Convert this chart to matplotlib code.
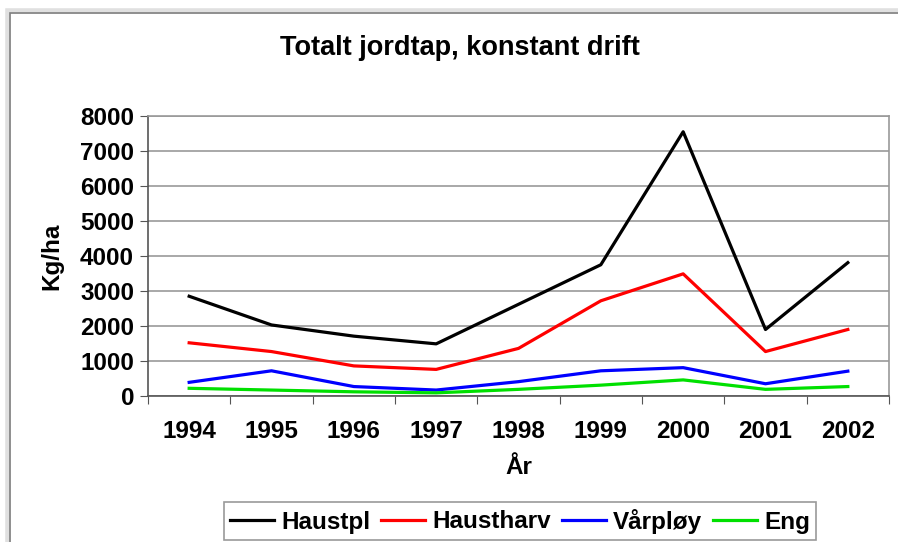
import matplotlib
matplotlib.use("Agg")
import matplotlib.pyplot as plt
from matplotlib.patches import Rectangle

plt.rcParams['font.family'] = ['Liberation Sans', 'DejaVu Sans']
plt.rcParams['font.weight'] = 'bold'

years = ["1994", "1995", "1996", "1997", "1998", "1999", "2000", "2001", "2002"]
haustpl = [2850, 2030, 1710, 1490, 2620, 3750, 7550, 1900, 3810]
haustharv = [1520, 1270, 860, 760, 1360, 2720, 3490, 1270, 1900]
varploy = [390, 720, 270, 170, 410, 720, 810, 350, 710]
eng = [220, 170, 120, 90, 190, 310, 460, 190, 270]

series = [
    ("Haustpl", haustpl, "black"),
    ("Haustharv", haustharv, "#ff0000"),
    ("Vårpløy", varploy, "#0000ff"),
    ("Eng", eng, "#00e000"),
]

fig = plt.figure(figsize=(8.98, 5.42), dpi=100)

# outer chart frame with light shadow
fig.patches.append(Rectangle((8 / 898, -0.05), 1.0, 1 - 11 / 542 + 0.05,
                             transform=fig.transFigure, fill=False,
                             edgecolor="#e0e0e0", linewidth=4))
fig.patches.append(Rectangle((10 / 898, -0.05), 1.0, 1 - 13 / 542 + 0.05,
                             transform=fig.transFigure, fill=False,
                             edgecolor="#808080", linewidth=1.2))

ax = fig.add_axes([148 / 898, 1 - 396 / 542, (889 - 148) / 898, (396 - 116) / 542])

x = list(range(len(years)))
for name, vals, col in series:
    ax.plot(x, vals, color=col, linewidth=2.3, label=name)

ax.set_xlim(-0.5, len(years) - 0.5)
ax.set_ylim(0, 8000)
ax.set_yticks(range(0, 8001, 1000))
ax.yaxis.grid(True, color="#999999", linewidth=1.2)
ax.set_axisbelow(True)

# tick marks on category boundaries, labels at category centres
ax.set_xticks([i + 0.5 for i in range(-1, len(years))])
ax.set_xticklabels([])
ax.set_xticks(x, minor=True)
ax.set_xticklabels(years, minor=True)
ax.tick_params(axis="x", which="major", length=6, color="#555555", direction="out")
ax.tick_params(axis="x", which="minor", length=0, pad=17, labelsize=17.5)
ax.tick_params(axis="y", length=6, color="#555555", labelsize=17.5, pad=4)

for side in ["top", "right"]:
    ax.spines[side].set_color("#999999")
    ax.spines[side].set_linewidth(1.2)
for side in ["left", "bottom"]:
    ax.spines[side].set_color("#555555")
    ax.spines[side].set_linewidth(1.2)

ax.set_xlabel("År", fontsize=17.5, fontweight="bold", labelpad=10)
ax.set_ylabel("Kg/ha", fontsize=17.5, fontweight="bold", labelpad=12)
fig.text(460 / 898, 1 - 48 / 542, "Totalt jordtap, konstant drift",
         ha="center", va="center", fontsize=19.5, fontweight="bold")

leg = fig.legend(loc="center", bbox_to_anchor=(520 / 898, 1 - 521 / 542), ncol=4,
                 fontsize=17.5, frameon=True, fancybox=False, handlelength=1.8,
                 handletextpad=0.3, columnspacing=0.45, borderpad=0.25)
leg.get_frame().set_edgecolor("#808080")
leg.get_frame().set_linewidth(1.2)

fig.savefig("out.png", dpi=100)
